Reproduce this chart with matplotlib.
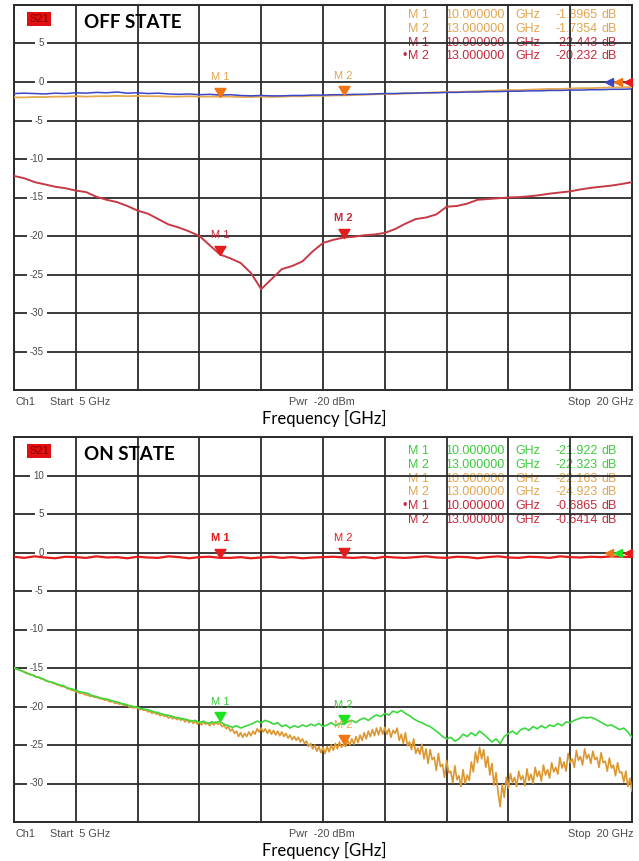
import numpy as np
import matplotlib
matplotlib.use("Agg")
import matplotlib.pyplot as plt
from matplotlib.path import Path
import matplotlib.transforms as mtransforms

# ---------------- data ----------------
F_START, F_STOP = 5.0, 20.0

# OFF state traces (0.25 GHz sweep points)
off_blue = [-1.5, -1.45, -1.5, -1.55, -1.45, -1.5, -1.4, -1.45, -1.35, -1.4,
            -1.3, -1.45, -1.4, -1.5, -1.45, -1.55, -1.6, -1.55, -1.65, -1.6,
            -1.7, -1.65, -1.75, -1.8, -1.75, -1.8, -1.8, -1.75, -1.75, -1.7,
            -1.7, -1.65, -1.65, -1.6, -1.6, -1.55, -1.5, -1.5, -1.45, -1.45,
            -1.4, -1.4, -1.35, -1.35, -1.3, -1.3, -1.25, -1.25, -1.2, -1.2,
            -1.15, -1.15, -1.1, -1.1, -1.05, -1.05, -1.0, -1.0, -0.95, -0.95,
            -0.9]
off_orange = [-2.0, -2.0, -1.95, -1.95, -1.9, -1.9, -1.85, -1.9, -1.85, -1.85,
              -1.8, -1.85, -1.8, -1.85, -1.85, -1.9, -1.9, -1.85, -1.9, -1.9,
              -1.8965, -1.9, -1.95, -1.95, -1.9, -1.95, -1.9, -1.85, -1.85, -1.8,
              -1.8, -1.75, -1.7354, -1.7, -1.65, -1.6, -1.55, -1.55, -1.5, -1.45,
              -1.4, -1.35, -1.3, -1.3, -1.25, -1.2, -1.15, -1.1, -1.05, -1.05,
              -1.0, -0.95, -0.9, -0.9, -0.85, -0.8, -0.8, -0.75, -0.7, -0.7,
              -0.65]
off_red = [-12.2, -12.5, -13.0, -13.3, -13.6, -13.8, -14.1, -14.3, -14.9, -15.3,
           -15.6, -16.1, -16.7, -17.1, -17.8, -18.5, -18.9, -19.4, -20.0, -21.2,
           -22.4, -22.9, -23.5, -24.8, -26.9, -25.6, -24.3, -23.9, -23.3, -22.0,
           -20.9, -20.5, -20.2, -20.1, -19.9, -19.8, -19.6, -19.1, -18.4, -17.8,
           -17.6, -17.2, -16.2, -16.1, -15.8, -15.3, -15.2, -15.1, -15.0, -14.95,
           -14.85, -14.7, -14.5, -14.35, -14.2, -13.95, -13.75, -13.6, -13.45, -13.25,
           -13.0]

# ON state traces
on_red = [-0.55, -0.7, -0.5, -0.65, -0.75, -0.55, -0.6, -0.7, -0.5, -0.65,
          -0.6, -0.75, -0.55, -0.65, -0.7, -0.5, -0.6, -0.75, -0.6, -0.55,
          -0.69, -0.7, -0.6, -0.75, -0.65, -0.55, -0.7, -0.6, -0.75, -0.65,
          -0.6, -0.55, -0.64, -0.7, -0.6, -0.75, -0.55, -0.65, -0.7, -0.6,
          -0.5, -0.65, -0.7, -0.55, -0.6, -0.75, -0.6, -0.5, -0.65, -0.7,
          -0.55, -0.6, -0.7, -0.5, -0.6, -0.65, -0.55, -0.6, -0.5, -0.55,
          -0.6]
# 0.05 GHz sweep points
on_orange = [
    -15.0, -15.1, -15.2, -15.3, -15.4, -15.5, -15.6, -15.7, -15.9, -15.9, -16.0, -16.2, -16.2, -16.4, -16.4, -16.6, -16.7, -16.8, -16.8, -17.0,
    -17.0, -17.2, -17.2, -17.4, -17.4, -17.5, -17.7, -17.7, -17.9, -17.9, -18.1, -18.1, -18.3, -18.2, -18.4, -18.5, -18.5, -18.7, -18.6, -18.8,
    -18.8, -18.9, -19.0, -19.0, -19.2, -19.1, -19.3, -19.4, -19.3, -19.6, -19.5, -19.7, -19.6, -19.8, -19.9, -19.8, -20.1, -20.0, -20.2, -20.1,
    -20.2, -20.4, -20.3, -20.5, -20.4, -20.7, -20.6, -20.9, -20.7, -21.0, -20.9, -21.2, -21.0, -21.3, -21.2, -21.5, -21.3, -21.6, -21.4, -21.7,
    -21.5, -21.8, -21.6, -22.0, -21.7, -22.1, -21.8, -22.2, -21.9, -22.3, -22.0, -22.4, -22.0, -22.3, -22.1, -22.5, -22.1, -22.4, -22.0, -22.3,
    -22.163, -22.6, -22.4, -22.9, -22.6, -23.2, -22.9, -23.5, -23.2, -23.9, -23.4, -24.0, -23.5, -23.9, -23.3, -23.8, -23.2, -23.6, -22.9, -23.3,
    -22.8, -23.3, -22.9, -23.5, -23.0, -23.6, -23.1, -23.7, -23.2, -23.8, -23.3, -23.9, -23.5, -24.1, -23.7, -24.3, -23.9, -24.4, -24.0, -24.6,
    -24.2, -24.8, -24.5, -25.2, -24.8, -25.5, -25.0, -25.8, -25.2, -26.0, -25.3, -26.1, -25.2, -25.9, -25.0, -25.7, -24.8, -25.5, -24.6, -25.3,
    -24.923, -25.2, -24.4, -25.0, -24.2, -24.9, -23.9, -24.7, -23.7, -24.4, -23.4, -24.2, -23.2, -23.9, -23.0, -23.8, -22.8, -23.7, -22.7, -23.6,
    -22.7, -23.6, -22.9, -24.0, -23.1, -23.5, -22.8, -24.4, -23.6, -24.8, -23.4, -25.1, -24.6, -25.6, -24.2, -26.1, -25.4, -26.2, -24.9, -26.8,
    -25.5, -27.4, -25.6, -26.9, -26.6, -28.3, -26.1, -27.8, -27.5, -29.2, -27.0, -28.6, -28.4, -29.9, -27.7, -29.5, -29.0, -30.4, -28.2, -30.0,
    -28.9, -29.6, -27.2, -28.5, -25.9, -27.3, -25.3, -26.8, -25.6, -27.9, -26.5, -28.9, -27.4, -30.2, -28.6, -31.2, -33.0, -30.1, -31.8, -29.2,
    -30.6, -28.7, -29.9, -29.2, -30.4, -28.4, -29.5, -29.0, -30.3, -28.1, -29.6, -28.8, -30.0, -27.9, -29.1, -28.4, -29.7, -27.6, -28.9, -28.2,
    -29.3, -27.3, -28.5, -27.9, -28.8, -26.6, -28.0, -27.2, -28.4, -26.1, -27.3, -26.8, -27.9, -25.7, -27.0, -26.5, -27.6, -25.5, -26.8, -26.2,
    -27.4, -25.8, -26.9, -26.6, -27.9, -26.0, -27.3, -27.1, -28.4, -26.7, -28.0, -27.6, -29.0, -27.3, -28.6, -28.5, -29.8, -28.4, -30.4, -29.3,
    -31.0]
# 0.1 GHz sweep points
on_green = [-15.0, -15.2, -15.4, -15.7, -15.8, -16.1, -16.2, -16.4, -16.7, -16.8, -17.0,
            -17.2, -17.3, -17.6, -17.7, -17.9, -18.1, -18.2, -18.3, -18.6, -18.7,
            -18.9, -19.0, -19.1, -19.3, -19.4, -19.6, -19.7, -19.9, -20.0, -20.1,
            -20.3, -20.4, -20.5, -20.7, -20.8, -21.0, -21.1, -21.2, -21.4, -21.5,
            -21.6, -21.7, -21.9, -21.8, -22.1, -21.9, -22.2, -22.0, -22.1, -21.922,
            -22.3, -22.5, -22.7, -22.5, -22.8, -22.6, -22.4, -22.2, -21.9, -22.1,
            -21.8, -22.0, -22.3, -22.1, -22.6, -22.4, -22.8, -22.5, -22.7, -22.4,
            -22.6, -22.3, -22.5, -22.2, -22.6, -22.4, -22.1, -22.5, -22.2, -22.323,
            -22.0, -21.8, -22.1, -21.7, -21.5, -21.8, -21.4, -21.1, -21.3, -20.9,
            -21.1, -20.6, -20.8, -20.5, -20.9, -21.2, -21.6, -21.9, -22.1, -22.4,
            -22.6, -23.0, -23.4, -23.9, -24.2, -24.0, -24.5, -24.2, -23.6, -23.9,
            -23.4, -23.8, -23.2, -23.6, -24.1, -24.6, -24.2, -24.8, -23.9, -23.5,
            -23.2, -23.6, -23.0, -22.8, -23.1, -22.6, -22.9, -22.5, -22.8, -22.4,
            -22.6, -22.2, -22.5, -22.0, -22.1, -21.8, -21.6, -21.4, -21.5, -21.4,
            -21.6, -21.9, -22.2, -22.5, -22.4, -22.7, -23.0, -22.8, -23.3, -24.0]

marker_freqs = [10.0, 13.0]
marker_names = ["M 1", "M 2"]
off_orange_mk = [-1.8965, -1.7354]
off_red_mk = [-22.443, -20.232]
on_green_mk = [-21.922, -22.323]
on_orange_mk = [-22.163, -24.923]
on_red_mk = [-0.6865, -0.6414]

off_ylim = (-40, 10)
on_ylim = (-35, 15)
off_tick_labels = [5, 0, -5, -10, -15, -20, -25, -30, -35]
on_tick_labels = [10, 5, 0, -5, -10, -15, -20, -25, -30]

# ---------------- style ----------------
W, H = 639, 861
C_BLUE = "#3c46c8"
C_TAN = "#e6a84e"
C_TAN_TXT = "#e2a650"
C_ORANGE_MK = "#f27414"
C_RED = "#c63a46"
C_RED_TXT = "#c42a3c"
C_RED_MK = "#e41c1c"
C_GREEN = "#3cd83c"
C_GREEN_TXT = "#3ccc3c"
C_GREEN_MK = "#1ee21e"
C_ON_ORANGE = "#dc9830"
C_GRID = "#2b2b2b"
C_GRAYTXT = "#4a4a4a"

INSTR = ["Liberation Sans", "DejaVu Sans"]
CAL = ["Lato", "DejaVu Sans"]

fig = plt.figure(figsize=(W / 100, H / 100), dpi=100)
fig.patch.set_facecolor("white")

tip_down = Path([(-0.6, 1.0), (0.6, 1.0), (0.0, 0.0), (-0.6, 1.0)],
                [Path.MOVETO, Path.LINETO, Path.LINETO, Path.CLOSEPOLY])


def px_axes(left, top, right, bottom):
    ax = fig.add_axes([left / W, 1 - bottom / H, (right - left) / W, (bottom - top) / H])
    ax.patch.set_alpha(0.0)
    return ax


def fig_txt(x, y, s, **kw):
    fig.text(x / W, 1 - y / H, s, **kw)


def setup(ax, ylim, labels):
    ax.set_xlim(F_START, F_STOP)
    ax.set_ylim(*ylim)
    ax.set_xticks(np.linspace(F_START, F_STOP, 11))
    ax.set_yticks(np.arange(ylim[0], ylim[1] + 0.1, 5))
    ax.grid(True, color=C_GRID, lw=1.3, zorder=0)
    ax.tick_params(length=0, labelleft=False, labelbottom=False)
    for s in ax.spines.values():
        s.set_color(C_GRID)
        s.set_linewidth(1.4)
    ax.set_axisbelow(True)
    tr = mtransforms.blended_transform_factory(ax.transAxes, ax.transData)
    for v in labels:
        ax.text(0.048, v, str(v), transform=tr, ha="right", va="center",
                fontsize=7, color=C_GRAYTXT, family=INSTR, zorder=1.5,
                bbox=dict(boxstyle="square,pad=0.3", fc="white", ec="none"))


def markers(ax, freqs, vals, names, tri_color, txt_color, bold=None):
    bold = bold or [False] * len(vals)
    for f, v, name, b in zip(freqs, vals, names, bold):
        ax.plot([f], [v], marker=tip_down, ms=13, color=tri_color, mec=tri_color,
                ls="none", zorder=5)
        ax.annotate(name, (f, v), xytext=(0, 14), textcoords="offset points",
                    ha="center", va="center", fontsize=8, color=txt_color,
                    family=INSTR, fontweight="bold" if b else "normal", zorder=6)


def ref_arrows(ax, colors):
    tr = mtransforms.blended_transform_factory(ax.transAxes, ax.transData)
    for xf, c in zip([0.963, 0.978, 0.993], colors):
        ax.plot([xf], [0], marker="<", ms=6, color=c, transform=tr,
                clip_on=False, zorder=6, ls="none")


def header(ax_top, title):
    fig_txt(29, ax_top + 14, "S21", fontsize=8, color="#8a0000", family=INSTR,
            va="center", ha="left",
            bbox=dict(boxstyle="square,pad=0.22", fc="#e21010", ec="none"))
    fig_txt(84, ax_top + 17, title, fontsize=13.5, fontweight="bold",
            family=CAL, va="center", ha="left", color="black")


def legend_rows(y0, rows):
    for i, (bullet, name, freq, val, col) in enumerate(rows):
        y = y0 + i * 13.8
        kw = dict(fontsize=9, color=col, family=INSTR, va="center", zorder=-1)
        if bullet:
            fig_txt(407, y, "\u2022", ha="right", **kw)
        fig_txt(408, y, name, ha="left", **kw)
        fig_txt(445, y, freq, ha="left", **kw)
        fig_txt(515, y, "GHz", ha="left", **kw)
        fig_txt(598, y, val, ha="right", **kw)
        fig_txt(601, y, "dB", ha="left", **kw)


def footer(y):
    kw = dict(fontsize=7.8, color=C_GRAYTXT, family=INSTR, va="center")
    fig_txt(16, y, "Ch1", ha="left", **kw)
    fig_txt(50, y, "Start  5 GHz", ha="left", **kw)
    fig_txt(322, y, "Pwr  -20 dBm", ha="center", **kw)
    fig_txt(633, y, "Stop  20 GHz", ha="right", **kw)
    fig_txt(324, y + 16, "Frequency [GHz]", fontsize=12, family=CAL,
            ha="center", va="center", color="black")


# ---------------- OFF STATE ----------------
ax1 = px_axes(14, 5, 632, 390)
setup(ax1, off_ylim, off_tick_labels)
ax1.plot(np.linspace(F_START, F_STOP, len(off_orange)), off_orange, color=C_TAN, lw=1.3, zorder=3)
ax1.plot(np.linspace(F_START, F_STOP, len(off_blue)), off_blue, color=C_BLUE, lw=1.1, zorder=3.2)
ax1.plot(np.linspace(F_START, F_STOP, len(off_red)), off_red, color=C_RED, lw=1.4, zorder=3)
markers(ax1, marker_freqs, off_orange_mk, marker_names, C_ORANGE_MK, C_TAN_TXT)
markers(ax1, marker_freqs, off_red_mk, marker_names, C_RED_MK, C_RED_TXT, bold=[False, True])
ref_arrows(ax1, [C_BLUE, C_ORANGE_MK, C_RED_MK])
header(5, "OFF STATE")
legend_rows(15, [
    (False, "M 1", "10.000000", "-1.8965", C_TAN_TXT),
    (False, "M 2", "13.000000", "-1.7354", C_TAN_TXT),
    (False, "M 1", "10.000000", "-22.443", C_RED_TXT),
    (True, "M 2", "13.000000", "-20.232", C_RED_TXT),
])
footer(402)

# ---------------- ON STATE ----------------
ax2 = px_axes(14, 437, 632, 822)
setup(ax2, on_ylim, on_tick_labels)
ax2.plot(np.linspace(F_START, F_STOP, len(on_orange)), on_orange, color=C_ON_ORANGE, lw=1.2, zorder=3)
ax2.plot(np.linspace(F_START, F_STOP, len(on_green)), on_green, color=C_GREEN, lw=1.2, zorder=3.2)
ax2.plot(np.linspace(F_START, F_STOP, len(on_red)), on_red, color=C_RED_MK, lw=1.6, zorder=3.3)
markers(ax2, marker_freqs, on_red_mk, marker_names, C_RED_MK, C_RED_MK, bold=[True, False])
markers(ax2, marker_freqs, on_green_mk, marker_names, C_GREEN_MK, C_GREEN_TXT)
# orange M 1 sits under the green marker in the reference; only M 2 shows
markers(ax2, marker_freqs[1:], on_orange_mk[1:], marker_names[1:], C_ORANGE_MK, C_TAN_TXT)
ref_arrows(ax2, [C_ORANGE_MK, C_GREEN_MK, C_RED_MK])
header(437, "ON STATE")
legend_rows(451, [
    (False, "M 1", "10.000000", "-21.922", C_GREEN_TXT),
    (False, "M 2", "13.000000", "-22.323", C_GREEN_TXT),
    (False, "M 1", "10.000000", "-22.163", C_TAN_TXT),
    (False, "M 2", "13.000000", "-24.923", C_TAN_TXT),
    (True, "M 1", "10.000000", "-0.6865", C_RED_TXT),
    (False, "M 2", "13.000000", "-0.6414", C_RED_TXT),
])
footer(834)

fig.savefig("out.png", dpi=100, facecolor="white")
